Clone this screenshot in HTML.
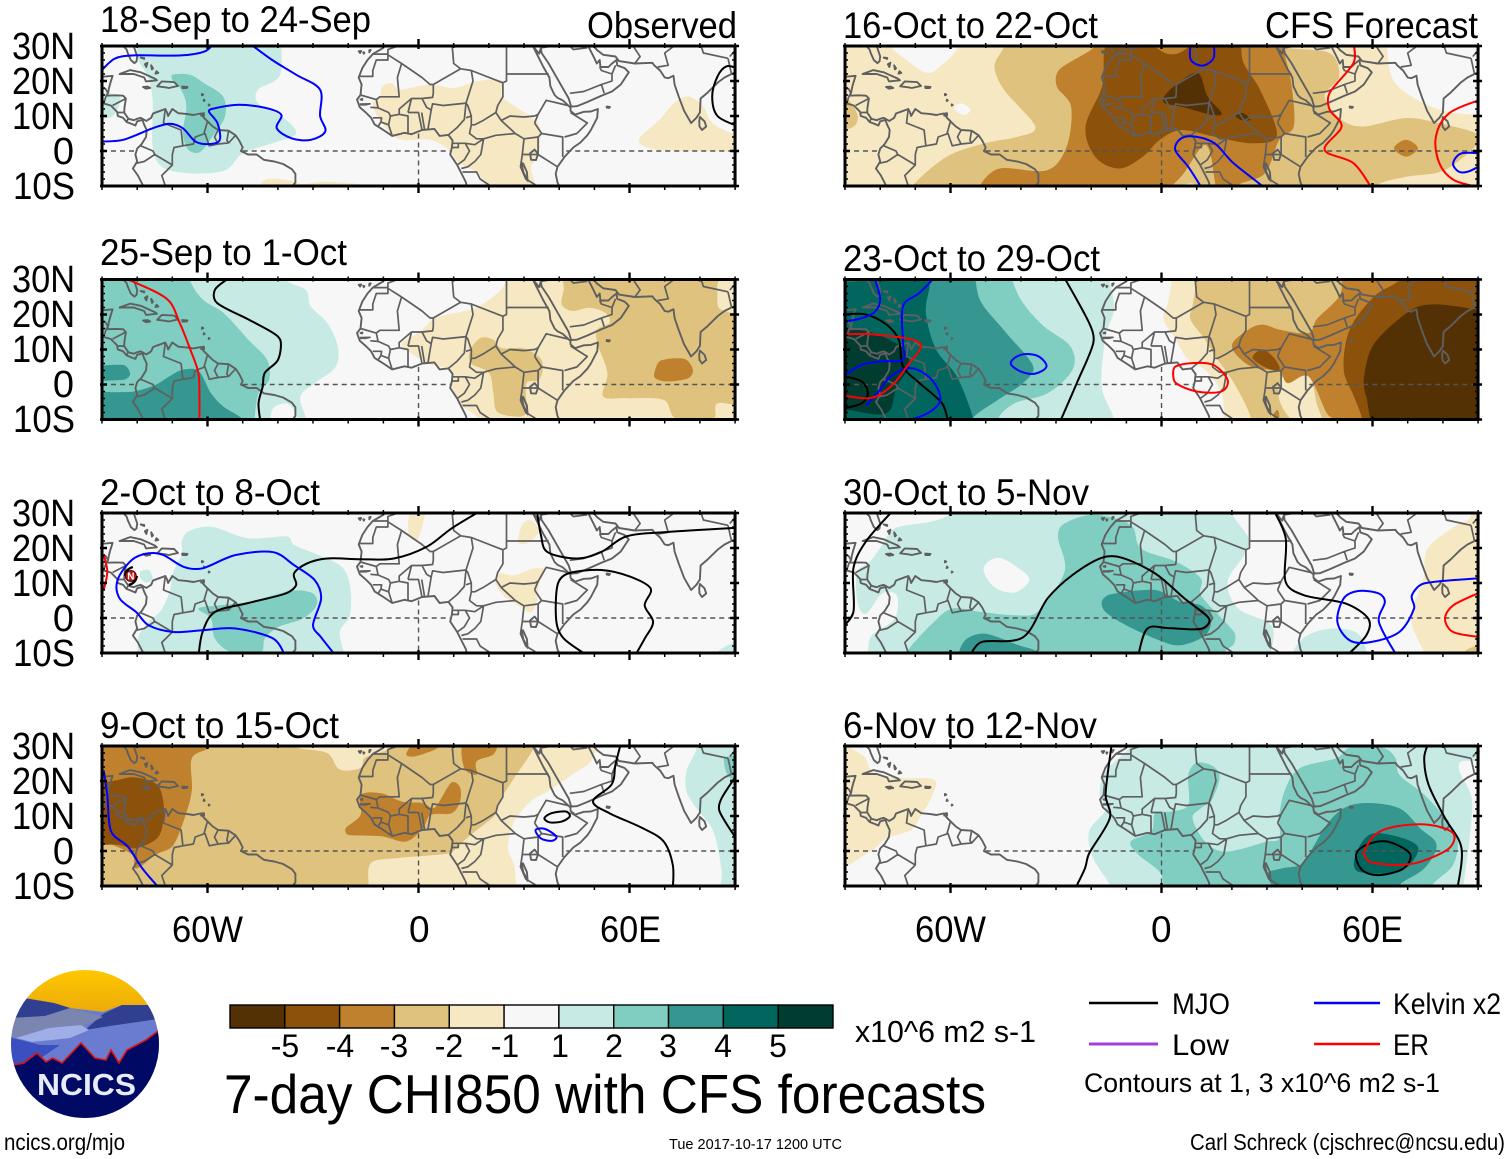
<!DOCTYPE html>
<html lang="en">
<head>
<meta charset="utf-8">
<title>7-day CHI850 with CFS forecasts</title>
<style>
html,body{margin:0;padding:0;background:#fff;}
svg{display:block;}
text{font-family:"Liberation Sans",sans-serif;fill:#000;}
</style>
</head>
<body>
<svg id="chart" xmlns="http://www.w3.org/2000/svg" width="1510" height="1159" viewBox="0 0 1510 1159">
<rect width="1510" height="1159" fill="#fff"/>
<g id="panels"></g>

<g>
<text x="100" y="32" font-size="37" textLength="271" lengthAdjust="spacingAndGlyphs">18-Sep to 24-Sep</text>
<text x="587" y="38" font-size="37" textLength="150" lengthAdjust="spacingAndGlyphs">Observed</text>
<text x="843" y="38" font-size="37" textLength="255" lengthAdjust="spacingAndGlyphs">16-Oct to 22-Oct</text>
<text x="1265" y="38" font-size="37" textLength="213" lengthAdjust="spacingAndGlyphs">CFS Forecast</text>
<text x="100" y="265" font-size="37" textLength="247" lengthAdjust="spacingAndGlyphs">25-Sep to 1-Oct</text>
<text x="843" y="271" font-size="37" textLength="257" lengthAdjust="spacingAndGlyphs">23-Oct to 29-Oct</text>
<text x="100" y="505" font-size="37" textLength="220" lengthAdjust="spacingAndGlyphs">2-Oct to 8-Oct</text>
<text x="843" y="505" font-size="37" textLength="246" lengthAdjust="spacingAndGlyphs">30-Oct to 5-Nov</text>
<text x="100" y="738" font-size="37" textLength="239" lengthAdjust="spacingAndGlyphs">9-Oct to 15-Oct</text>
<text x="843" y="738" font-size="37" textLength="254" lengthAdjust="spacingAndGlyphs">6-Nov to 12-Nov</text>
</g>

<g font-size="38" text-anchor="end">
<text x="75" y="59" textLength="63" lengthAdjust="spacingAndGlyphs">30N</text>
<text x="75" y="94" textLength="63" lengthAdjust="spacingAndGlyphs">20N</text>
<text x="75" y="129" textLength="63" lengthAdjust="spacingAndGlyphs">10N</text>
<text x="74" y="164">0</text>
<text x="75" y="199" textLength="62" lengthAdjust="spacingAndGlyphs">10S</text>
<text x="75" y="292" textLength="63" lengthAdjust="spacingAndGlyphs">30N</text>
<text x="75" y="327" textLength="63" lengthAdjust="spacingAndGlyphs">20N</text>
<text x="75" y="362" textLength="63" lengthAdjust="spacingAndGlyphs">10N</text>
<text x="74" y="397">0</text>
<text x="75" y="432" textLength="62" lengthAdjust="spacingAndGlyphs">10S</text>
<text x="75" y="526" textLength="63" lengthAdjust="spacingAndGlyphs">30N</text>
<text x="75" y="561" textLength="63" lengthAdjust="spacingAndGlyphs">20N</text>
<text x="75" y="596" textLength="63" lengthAdjust="spacingAndGlyphs">10N</text>
<text x="74" y="631">0</text>
<text x="75" y="666" textLength="62" lengthAdjust="spacingAndGlyphs">10S</text>
<text x="75" y="759" textLength="63" lengthAdjust="spacingAndGlyphs">30N</text>
<text x="75" y="794" textLength="63" lengthAdjust="spacingAndGlyphs">20N</text>
<text x="75" y="829" textLength="63" lengthAdjust="spacingAndGlyphs">10N</text>
<text x="74" y="864">0</text>
<text x="75" y="899" textLength="62" lengthAdjust="spacingAndGlyphs">10S</text>
</g>

<g font-size="37">
<text x="172" y="942" textLength="71" lengthAdjust="spacingAndGlyphs">60W</text>
<text x="409" y="942">0</text>
<text x="600" y="942" textLength="61" lengthAdjust="spacingAndGlyphs">60E</text>
<text x="915" y="942" textLength="71" lengthAdjust="spacingAndGlyphs">60W</text>
<text x="1151" y="942">0</text>
<text x="1342" y="942" textLength="61" lengthAdjust="spacingAndGlyphs">60E</text>
</g>

<g id="colorbar"></g>
<g font-size="32" text-anchor="middle">
<text x="285" y="1057">-5</text>
<text x="340" y="1057">-4</text>
<text x="394" y="1057">-3</text>
<text x="449" y="1057">-2</text>
<text x="505" y="1057">-1</text>
<text x="560" y="1057">1</text>
<text x="614" y="1057">2</text>
<text x="668" y="1057">3</text>
<text x="723" y="1057">4</text>
<text x="778" y="1057">5</text>
</g>
<text x="855" y="1042" font-size="31" textLength="181" lengthAdjust="spacingAndGlyphs">x10^6 m2 s-1</text>
<text x="224" y="1113" font-size="55" textLength="762" lengthAdjust="spacingAndGlyphs">7-day CHI850 with CFS forecasts</text>

<g>
<line x1="1089" x2="1158" y1="1003" y2="1003" stroke="#000" stroke-width="2.4"/>
<text x="1172" y="1014" font-size="30" textLength="58" lengthAdjust="spacingAndGlyphs">MJO</text>
<line x1="1314" x2="1380" y1="1003" y2="1003" stroke="#0000ff" stroke-width="2.4"/>
<text x="1393" y="1014" font-size="30" textLength="108" lengthAdjust="spacingAndGlyphs">Kelvin x2</text>
<line x1="1089" x2="1158" y1="1044" y2="1044" stroke="#a040d8" stroke-width="3"/>
<text x="1172" y="1055" font-size="30" textLength="57" lengthAdjust="spacingAndGlyphs">Low</text>
<line x1="1314" x2="1380" y1="1044" y2="1044" stroke="#ff0000" stroke-width="2.4"/>
<text x="1393" y="1055" font-size="30" textLength="36" lengthAdjust="spacingAndGlyphs">ER</text>
<text x="1084" y="1092" font-size="27" textLength="356" lengthAdjust="spacingAndGlyphs">Contours at 1, 3 x10^6 m2 s-1</text>
</g>

<g>
<defs>
<clipPath id="logoClip"><circle cx="85" cy="1044" r="74"/></clipPath>
<linearGradient id="skyGrad" x1="0" y1="0" x2="0" y2="1"><stop offset="0" stop-color="#ffc800"/><stop offset="1" stop-color="#e8a50a"/></linearGradient>
</defs>
<g clip-path="url(#logoClip)">
<rect x="10" y="970" width="150" height="50" fill="url(#skyGrad)"/>
<polygon fill="#6a7cd0" points="5,1020 24,998 54,1003 70,1008 103,1012 122,1005 165,1005 165,1120 5,1120"/>
<polygon fill="#303f90" points="5,1010 24,998 54,1003 70,1008 45,1016 15,1018"/>
<polygon fill="#303f90" points="122,1005 165,1005 165,1018 110,1026 85,1030 103,1014"/>
<polygon fill="#7a86b0" points="10,1018 45,1016 70,1008 103,1017 81,1027 38,1037 10,1038"/>
<polygon fill="#a0aee8" points="16,1038 49,1028 81,1025 89,1030 70,1038 32,1042"/>
<polygon fill="#3a50c0" points="5,1036 40,1045 60,1045 35,1062 13,1066 5,1066"/>
<polygon fill="#000a64" points="5,1066 13.5,1065 24,1063 37,1053 46,1062 52.6,1058 62,1063 81,1043 95,1058 106,1060 111,1050 119,1063 127,1050 146,1040 165,1026 165,1125 5,1125"/>
<polyline fill="none" stroke="#e01010" stroke-width="1.6" points="5,1066 13.5,1065 24,1063 37,1053 46,1062 52.6,1058 62,1063 81,1043 95,1058 106,1060 111,1050 119,1063 127,1050 146,1040 165,1026"/>
</g>
<text x="37" y="1095" font-size="31" font-weight="bold" style="fill:#e8ecf8" textLength="99" lengthAdjust="spacingAndGlyphs">NCICS</text>
</g>

<text x="4" y="1150" font-size="23" textLength="121" lengthAdjust="spacingAndGlyphs">ncics.org/mjo</text>
<text x="669" y="1149" font-size="15" textLength="173" lengthAdjust="spacingAndGlyphs">Tue 2017-10-17 1200 UTC</text>
<text x="1190" y="1150" font-size="23" textLength="315" lengthAdjust="spacingAndGlyphs">Carl Schreck (cjschrec@ncsu.edu)</text>
</svg>

<script>
/* ---------- legend levels ---------- */
const colorLevels = [-5,-4,-3,-2,-1,0,1,2,3,4,5];
const levelColors = {"-5":"#543005","-4":"#8c510a","-3":"#bf812d","-2":"#dfc27d","-1":"#f6e8c3","0":"#f7f7f7","1":"#c7eae5","2":"#80cdc1","3":"#35978f","4":"#01665e","5":"#003c30"};

/* ---------- panel 1: 18-Sep to 24-Sep ---------- */
const p1Fills = [
 [1,[-80,36,-39,36,-39,30,-39.6,21.3,-45.7,17.5,-45.7,13.7,-39,10,-34.8,5,-41.6,2.2,-50,-0.7,-55,-5.5,-65,-6.4,-73,-4.5,-75.6,1.2,-75.6,14.6,-77,21.3,-79.7,26,-80,30]],
 [1,[-92,16,-85,15.6,-87,10,-92,10]],
 [2,[-70,21.8,-65,21.8,-61,19.4,-55.6,15.6,-55,10,-58,5,-62,-0.2,-65.4,0.3,-67,5,-66,12.7,-67.5,17.5,-70,20.4]],
 [-1,[-46,-11,-43,-8,-36,-8.5,-33,-9.5,-27,-8.8,-14,-10,-14,-13,-46,-13]],
 [-1,[-11,15.6,-10.3,18.5,-7.6,19.4,-5.6,17.5,3.3,19,10,18,16.9,20,23.7,20,23.7,15.6,29,11.8,34,8,34.6,3,34,-1.6,32,-4.5,32.5,-12,21,-12,17,-6.4,11.4,-3.5,8.7,0.3,3.3,3.2,-6,3.6,-11.7,10,-13,13.7]],
 [-1,[63,4,68.6,9,72.6,13.7,76.7,15.6,81,12.7,83.5,8,90.3,4.6,96,4,96,-0.2,90,-0.2,68,0.3,63,2]]
];
const p1Kelvin = [
 [-91,22,-86.5,26.3,-81,27.3,-67.5,27.3,-60.7,28.5,-58,31],
 [-91,2.7,-84,3.2,-75.6,6.5,-70.8,7.8,-67,6.5,-63.4,2.7,-59.3,2,-56.5,3.2,-57.2,8,-59.6,11.3,-57.9,12.2,-51,13.2,-43,12.2,-39,10.3,-40.3,6.5,-36,3.6,-30.6,3.2,-26.5,5.6,-28,10,-28,17.5,-34.8,21.8,-41.6,26,-48.4,31]
];
const p1MJO = [[91,7,85,10,83.5,15.6,85,21.3,87.6,24.2,91,23.5]];
const p1ER = [];

/* ---------- panel 2: 25-Sep to 1-Oct ---------- */
const p2Fills = [
 [1,[-96,36,-37.8,36,-37.8,30,-32,27,-30.7,22.4,-26,17.6,-23,11,-23.6,5,-29.5,0.4,-33.6,-3.4,-32,-9.7,-32,-13,-96,-13]],
 [2,[-96,36,-65,36,-65,30,-61.4,24.3,-55.5,20.5,-48.4,12.8,-43,7,-42.5,1.3,-45.5,-2.5,-46.6,-9.8,-46.6,-13,-96,-13]],
 [0,[-41.3,-12,-41.3,-6.8,-36.6,-5.8,-34.2,-12]],
 [3,[-96,-13,-96,-3,-86,-2.2,-81,-2,-75,-0.2,-71,2.2,-67,4.2,-62.5,3.8,-59,-2.5,-55.5,-6.3,-50,-10,-50,-14]],
 [3,[-96,4.5,-84,5.6,-82,3,-84,1.3,-96,1.5]],
 [-1,[24.8,36,24.8,30,23.6,27.2,19.5,23.8,14.8,21.4,4.7,19,0.6,15.2,-4.7,11.9,-3.5,10,2.4,6.1,8.9,4.2,9.4,0.4,11.8,-5.4,17.1,-9.8,17.1,-14,96,-14,96,36]],
 [-2,[42,36,41.3,27.2,40.7,22.9,43.7,21,48.4,21.9,53.1,20.5,54.3,17.6,50.8,15.7,50.8,11.9,53.7,3.3,52.5,-3.4,59,-3.9,69.7,-4.4,73.2,-9.7,83.8,-9.7,85,-5.4,96,-4.4,96,36]],
 [-1,[86,30,96,30,96,20.5,86,21.4,85,25.4]],
 [-2,[14.8,10,17.7,13.3,21.3,12.8,23.6,10.4,29.5,10.4,34.2,8,35.4,5.2,34.2,1.3,30.7,0.4,30.7,-5.4,30.7,-8.2,28.3,-9.2,22.4,-7.8,21.3,-2.5,20,3.3,14.8,6.1]],
 [-3,[67.3,4.2,69,6.9,75.6,7.3,78,4.2,76.7,1.8,70.8,0.9,67.3,1.8]]
];
const p2Kelvin = [];
const p2MJO = [[-53,31,-57.8,27.2,-57.3,23.3,-48.4,18.6,-41.3,14.7,-39.2,12.3,-40,7,-43.7,3.3,-44.3,-0.6,-45.5,-5.4,-44.9,-11]];
const p2ER = [[-85.6,31,-80.3,29,-71.4,24.3,-67.9,17.6,-64.9,10,-62.6,3.3,-62.3,-3.4,-62.3,-11]];

/* ---------- panel 3: 2-Oct to 8-Oct ---------- */
const p3Fills = [
 [1,[-67.3,21.8,-65.5,24.7,-59,26.1,-48.4,22.8,-37.2,23.3,-35.4,20.9,-22.4,15.1,-19.5,9.4,-19.5,0.8,-22.4,-4,-22.4,-13,-78,-13,-79.7,-5.9,-76.7,-1.1,-73.2,2.2,-70.8,7.5,-69.7,13.2,-67.3,18]],
 [1,[-79,13.2,-76.7,13.7,-75.6,11.3,-77.3,10.1,-79,11.3]],
 [2,[-62.6,2.7,-56.7,3.6,-48.4,4.6,-41.3,6.5,-35.4,7.9,-30,7,-29,3.6,-33,-0.2,-40,-2.6,-43.7,-5.9,-44.9,-9.8,-53.1,-9.8,-57.9,-5.9,-59,-0.2]],
 [-1,[-1.8,31,1.8,31,0,22.8,-2.4,22.8,-3,26.6]],
 [-1,[29.5,26.6,31.9,28,34.2,24.7,30.7,21.3,28.3,21.8]],
 [-1,[23,12.7,27.2,12.2,33,14.2,36,13.7,34.2,9.4,33.6,4.6,31.9,1.7,28.3,3.6,24.2,6.5,21.8,10.3]],
 [1,[85,-9.8,90,-6.9,96,-6,96,-13,85,-13]]
];
const p3Kelvin = [[-37.8,-11,-41.3,-5.9,-52,-3,-61.4,-3.5,-69.7,-4,-76.7,-2.1,-80.3,1.7,-85,5.6,-85.6,10.8,-81.5,16.6,-76.7,18.5,-72.6,18,-66.7,14.6,-61.4,14.2,-52,18,-41.3,18.8,-35.4,15.1,-29.5,10.8,-27.7,5.6,-30,-2.1,-27.7,-5.5,-23.4,-11]];
const p3MJO = [
 [-62.6,-11,-61.4,-4,-57.9,1.7,-48.4,4.3,-37.8,7,-34.8,9.4,-35.4,12.7,-31.9,15.5,-26,17,-16.5,16.8,-7,17,2.4,20.4,9.4,25.6,18.3,31],
 [33.6,31,34.8,23.7,36.6,18.9,44.9,17,52,18.9,59,23.3,69.7,24.5,91,25.8],
 [48.4,-11,41.3,-5.9,39.2,-1.1,39.5,9.4,42.5,12.7,52,13.7,60.2,11.8,66,8.4,64.3,3.6,66.7,-1.1,64.3,-5.9,61.4,-11]
];
const p3ER = [[-89.5,18,-88.5,13.2,-89.5,8]];
const p3Storm = [-81.8,12];

/* ---------- panel 4: 9-Oct to 15-Oct ---------- */
const p4Fills = [
 [-1,[-96,36,49.6,36,49.6,26.6,43.7,21.8,36.6,17,31.9,14.2,27.2,8.4,25.4,0.8,27.2,-4,27.7,-10.2,27.7,-14,-96,-14]],
 [-2,[-96,36,-35.4,36,-35.4,30,-26,28,-22.4,23.3,-16.5,23.7,-15.3,26.6,-7,30,-7,36,33,36,33,30,27.2,20.9,23,14.2,21.8,10.3,14.8,4.6,10.6,0.8,8.9,-0.7,-7,-2.1,-13.6,-3.5,-14.2,-10.2,-14.2,-14,-96,-14]],
 [-3,[-96,36,-59,36,-59,30,-64.4,26.6,-64.4,18,-65.6,12.2,-69.7,1.7,-74.8,-1.1,-80.3,-5,-81.5,-1,-90,2.7,-96,2.5]],
 [-4,[-94,17,-85,20.4,-80.3,21,-74.4,19,-72.6,14.2,-72.6,8.4,-74.4,3.6,-80.3,0.8,-85,1.7,-94,3.5]],
 [-3,[-3.5,27.6,-1.2,30.5,5.9,30.5,4.7,29,-1.2,27]],
 [-3,[13,31,21.8,31,21.3,27.6,16.5,25.6,16.5,21.8,13,23.7]],
 [-3,[-20.7,6.5,-16.5,10.3,-16.5,16,-10.6,16.5,-4.7,14.1,1.2,13.7,4.1,12.2,5.9,14.1,9.4,19.6,11.8,18.2,11.8,14.1,9.4,10.8,3.5,10.3,1.2,6.5,-3.5,2.7,-10.6,4.2,-20,4.6]],
 [1,[79.1,36,79.1,29.5,76.2,22.8,76.2,17,79,12.2,83.8,5.6,86.2,-5.9,86.2,-14,96,-14,96,36]],
 [2,[86.8,26,88,27,96,27,96,18,88.5,20.9]]
];
const p4Kelvin = [
 [-89.5,23,-88.5,16,-87.4,5.6,-82.6,1.2,-78.5,-5,-73.4,-11],
 [33.3,6,36,6.3,39.2,4.1,37.8,2.9,34.8,3.6,33.3,6]
];
const p4MJO = [
 [35.8,9.4,37.8,10.8,41.9,11.3,43,9.9,40.7,8.4,37.2,8.2,35.8,9.4],
 [57.6,31,56,24.7,54.9,19,49.6,14.2,54.3,10.8,63.8,6.5,69.7,2.7,72.3,-4,72.3,-11],
 [91,22.5,86.2,15.1,85.6,11.3,91,2.5]
];
const p4ER = [];

/* ---------- panel 5: 16-Oct to 22-Oct ---------- */
const p5Fills = [
 [-1,[-97,37,97,37,97,-16,-97,-16]],
 [0,[-76.7,36,-76.7,30,-73.3,26.6,-66.5,22.3,-61.8,25.2,-59.7,27.1,-57.7,30,-57.7,36]],
 [0,[64.1,36,64.1,30,65.4,21.3,69.5,16.6,79,11.8,90,10.3,96,10,96,36]],
 [0,[-59,12.2,-57,13.6,-54.3,11.8,-56.4,10.3]],
 [-2,[-95,16,-90,15.6,-86.5,10.5,-87,7.5,-90,6,-95,5.5]],
 [-2,[-44.8,36,-44.8,30,-47.5,24.2,-44.8,17.5,-35.9,7,-40.7,4.1,-50.2,2.2,-61,-1.6,-70.6,-9.8,-72,-15,61.4,-15,61.4,-9.8,69.5,-7.4,80.4,-5.5,90,2.2,89.3,5.1,79,7.9,69.5,9.4,57.3,7,51.2,8.9,46.4,15.6,50.5,21.3,47.8,28,34.1,30,34.1,36]],
 [-3,[-18.9,36,-18.9,30,-29,23.3,-29.8,18.5,-25.7,12.7,-27,1.2,-32.5,-5.5,-46,-5,-51.6,-9.8,-52,-15,21.9,-15,21.9,-9.8,29.4,-6.4,33.5,3.2,37.6,7,36.9,19.4,34.8,29,34.8,36]],
 [-4,[-13,36,-16.2,29,-16.9,18.5,-21.6,7,-18.9,-1.6,-12.1,-5,-5.3,-1.6,-0.5,3.2,5.6,6,15.1,4.1,26,2.2,32.8,4.6,28,17.5,23.3,25.2,19.9,36]],
 [-3,[-2,31,1,28,5,28,8,31]],
 [-2,[1.5,-13,6.3,-6.4,12.4,1.8,14.8,-6.4,14.1,-13]],
 [-1,[1.5,-13,8.3,-9.2,12.4,-13]],
 [-5,[0.8,15.6,4.2,19,10.3,22.3,13.1,15.6,17.1,10.8,14.4,10.3,5.6,12.7,0.8,13.7]],
 [-5,[20.8,10.3,23.3,10.8,25.3,8.9,22.6,8.9]],
 [-3,[66.1,0.8,69.5,3.2,72.9,0.8,69.5,-1.6]]
];
const p5Kelvin = [
 [8.3,31,8.3,26.1,11.7,24.4,14.8,26.6,14.8,31],
 [11.7,-11,7.6,-4.5,3.9,0.3,5.6,3.6,9.7,4.1,15.1,2.2,20.5,-3.5,30,-11],
 [91,-0.7,85.2,-0.7,82.9,-3.5,84.5,-5.9,87.2,-5.9,91,-4]
];
const p5MJO = [];
const p5ER = [
 [54.6,31,54.6,25.2,47.8,16.6,47.8,11.8,51.2,7,46.4,0.3,54.6,-3.5,60,-11],
 [91,14.8,81.8,10.8,78,4.1,79,-3.5,83.1,-8.3,91,-10.5]
];

/* ---------- panel 6: 23-Oct to 29-Oct ---------- */
const p6Fills = [
 [1,[-96,36,-14.7,36,-14.7,30,-13.5,21.5,-15.9,13.8,-17,-0.6,-13.5,-9.8,-13.5,-15,-96,-15]],
 [2,[-96,36,-42.4,36,-42.4,30,-39.4,23.3,-33.5,16.7,-25.9,10.9,-25.3,4.2,-32.4,-2.5,-41.8,-5.4,-46.5,-9.8,-46.5,-15,-96,-15]],
 [3,[-96,36,-52.9,36,-52.9,30,-51.2,23.3,-44.1,14.7,-36.5,5.2,-39.4,0.4,-46.5,-4.4,-53.8,-9.8,-53.8,-15,-96,-15]],
 [4,[-96,27,-85,30,-84,36,-66,36,-65.9,28.6,-67,20.5,-64.1,10,-58.2,2.3,-53.5,-9.8,-53.5,-15,-96,-15]],
 [5,[-96,13.8,-84.1,15.2,-73.5,10.4,-71.8,5.2,-75.3,-0.6,-78.2,-8.2,-88.8,-7.3,-96,-6]],
 [-1,[2.9,36,2.9,30,1.8,23.3,0.6,18.6,4.1,12.8,7.6,7.1,12.4,4.2,17.1,-2.5,17.6,-9.8,17.6,-15,96,-15,96,36]],
 [-2,[10,36,10,30,8.8,22.4,8.2,18.6,12.4,12.8,15.3,8,20.6,0.4,25.3,-9.2,25.3,-15,96,-15,96,36]],
 [-1,[34.7,2.3,41.8,2.3,44.1,-5.4,45.3,-11,38.2,-11,33.5,-4.4]],
 [-3,[51.2,31,50.6,25.3,44.1,18.6,41.8,14.7,33.5,15.7,28.8,17.1,24.7,15.7,20,10.9,25.3,5.2,33.5,3.7,35.9,0.4,41.8,2.3,47,-8.2,50,-11,50,-15,96,-15,96,36,51.2,36]],
 [-4,[67.6,36,67.6,30,60.6,25.3,53.5,15.7,51.8,4.2,54.7,-3.4,57,-9.8,57,-15,96,-15,96,36]],
 [-4,[25.9,7.6,28.8,10,32.4,7.1,33.5,4.2,30,4.7]],
 [-5,[57.6,2.3,60.6,11.9,71.2,21.4,78.2,22.9,90,21.4,96,21,96,-15,63,-15,58.2,-3.4]],
 [-3,[31.8,-8.7,33,-7.3,33.5,-9.2,32.5,-11]]
];
const p6Kelvin = [
 [-81.8,31,-80,24.3,-81.8,20.5,-86.5,18.6,-91,18],
 [-64.1,31,-68.8,26.2,-73.5,22.4,-73.5,11.9,-73.5,7.1,-79.4,6.6,-85.3,5.6,-91,2],
 [-74.1,-11,-66.5,-8.2,-62.9,-4.4,-65.3,1.3,-71.2,4.7,-77,2.3,-80,-1.5,-84,-6],
 [-42.9,6.1,-40,8.5,-35.3,8.2,-32.7,5.2,-35.9,3.1,-40,3.7,-42.9,6.1]
];
const p6MJO = [
 [-27.9,31,-20.6,17.6,-19.4,11.9,-24.1,0.4,-29,-11],
 [-91,20,-84.1,20,-78.2,17.1,-74.7,12.8,-73.5,5.2,-68.8,0.4,-62.4,-5.4,-60.6,-11],
 [-91,2.5,-85.3,0.9,-83.5,-2.5,-85.3,-5.4,-91,-7]
];
const p6ER = [
 [-91,14.3,-82,14.3,-68.8,11.9,-72.4,5.2,-77,-0.6,-82.9,-3.9,-91,-3],
 [4.1,5.2,8.8,6.1,14.7,5.6,18.8,1.3,17,-2,10,-2,4.1,0.4,3.3,3.3,4.1,5.2]
];

/* ---------- panel 7: 30-Oct to 5-Nov ---------- */
const p7Fills = [
 [1,[-60,36,-60,30,-65.3,27.6,-75.9,25.6,-79.4,20.9,-82.9,16.1,-86.5,13.2,-86.5,4.6,-84.1,1.2,-79.4,7,-75.3,6.5,-75.9,-0.2,-82.4,-5,-83.5,-9.8,-84,-15,31.2,-15,31.2,-9.8,31.2,-2.1,21.8,2.7,18.8,10.3,23.5,18,24.7,22.8,20,30,20,36]],
 [1,[38,-12,40,-6,47.6,-3.1,55.9,-4.5,57,-12]],
 [0,[-50.6,14.2,-46.5,17.2,-40.6,14.2,-37.6,10.8,-41.8,7.3,-47.6,8.9]],
 [2,[-29.4,22.8,-28.2,26.6,-19.4,29.5,-8.8,26.6,-5.9,19.9,4.1,16.1,11.2,11.3,11.2,6.5,20.6,-4,20.6,-7.4,18,-9.8,18,-15,-72.4,-15,-72.4,-9.8,-64.7,-1.1,-59.4,2.7,-51.2,1.7,-41.8,0.8,-35.3,1.7,-27.6,13.2]],
 [3,[-17,4.6,-14.7,6.7,-1.8,8,5.3,4.6,11.2,3.6,14.1,-0.2,12.4,-5,5.3,-7.8,-0.6,-6.4,-10,-2.1,-15.9,1.7]],
 [3,[-57.6,-9.8,-55.3,-5.9,-50,-4.5,-40.6,-7.8,-35.3,-9.8,-35.3,-14,-57.6,-14]],
 [-1,[88,36,88,29,84,26.6,75.7,19.9,74.5,11.3,71,-0.2,74.5,-9.8,74.5,-15,96,-15,96,36]],
 [-2,[86,-9.8,90,-7.8,96,-7,96,-14,86,-14]]
];
const p7Kelvin = [[67,-11,61.8,-1.1,63.5,4.6,61.8,7,55.9,7.7,51.8,5.6,50,-1.1,53.5,-6.4,59.4,-6.9,67.6,-4,71.8,2.7,71.2,6.5,74.7,9.9,91,11.4]];
const p7MJO = [
 [-76.1,31,-84.1,21.8,-87.6,14.2,-87.6,1.7,-91,-3],
 [-54.7,-11,-51.2,-6.9,-39.4,-5.5,-32.4,5.6,-25.3,12.3,-17,17.2,-11.2,17.2,-1.8,12.7,6.5,5.6,13.5,-0.2,11.2,-3.1,1.8,-2.9,-4.1,-3.1,-6.7,-11],
 [31.8,31,35.3,22.8,35.3,10.3,40.6,6.5,52.4,4.1,58.8,-0.2,58.2,-5,52.4,-11]
];
const p7ER = [[91,7.5,82.9,3.6,80.6,-0.2,82.9,-4,91,-5.5]];

/* ---------- panel 8: 6-Nov to 12-Nov ---------- */
const p8Fills = [
 [-1,[-96,30,-85.3,27.6,-81.8,22.3,-73.5,20.9,-64.7,20.4,-65.3,15.6,-68.8,9.4,-71.2,6,-78.2,3.6,-82.9,-0.2,-96,-4.5]],
 [1,[-8.8,36,-8.8,30,-15.9,22.8,-17.6,16.1,-15.9,11.8,-20.6,5.6,-19.4,-2.1,-14.7,-9.8,-14.7,-15,85.9,-15,85.9,-9.8,87.6,3.6,88.2,15.1,84.7,22.8,85.3,25.6,96,26.6,96,36]],
 [2,[-8.8,2.7,-2.9,5.6,-1.8,10.8,2.9,11.3,7.6,13.2,7.6,21.8,10,25.2,14.7,24.2,16.5,20.9,14.1,14.2,11.2,12.2,8.8,9.4,12.4,2.7,18.2,-0.2,30,2.7,33.5,3.6,33.5,10.3,35.3,18,39.4,23.7,50,26.6,53.5,29.5,62.9,29.5,66.5,26.6,67.6,21.8,74.7,16.1,80.6,9.4,84.1,3.6,82.9,-4,77,-9.8,77,-15,0.6,-15,0.6,-9.8,-0.6,-5.9,-6.5,-1.1]],
 [3,[41.8,-1.1,47,7.5,51.8,12.2,58.2,13.7,67.6,12.2,73.5,6.5,78.2,1.7,74.7,-5,67.6,-9.8,67,-15,31.2,-15,31.2,-9.8,30,-6.4,34.1,-5,39.4,-4]],
 [4,[54.7,-3.1,57.1,2.7,60.6,5.1,68.8,3.6,73,0.8,70,-4.5,64.1,-6.4,55.9,-5.9]]
];
const p8Kelvin = [];
const p8MJO = [
 [-14.1,31,-15.9,16.1,-14.7,9.4,-20.6,-0.7,-21.8,-5,-24.7,-11],
 [75.9,31,74.7,26.6,75.9,19,80.6,9.4,85.3,0.8,84.1,-11],
 [55.3,-1.1,58.2,1.7,64.1,2.7,70.6,-0.7,68.8,-5,61.8,-6.9,57.1,-5.5,55.3,-1.1]
];
const p8ER = [[57.6,-0.2,60.6,4.6,66.5,7,75.9,7.5,82.9,5.1,81.8,0.8,73.5,-3.1,66.5,-4,59.4,-3.1,57.6,-1.1,57.6,-0.2]];

/* ---------- geography (lon, lat) ---------- */
const coastOpen = [
 [-90,30.3,-85.5,29.8,-84,30,-83,29,-82.7,28,-81.8,26,-80.8,25.1,-80.2,25.6,-80,27,-81,30,-81.3,31],
 [-91,21,-90,21.2,-87,21.5,-87.6,19.5,-88,18,-88.3,16.5,-88.8,15.8,-86,15.9,-84,15.8,-83.2,15,-83.6,12.5,-83.7,11,-82.5,9.2,-81,8.8,-80,9.2,-79,9.5,-77.4,8.6,-76,9.5,-75.5,10.7,-74.2,11.2,-72,12,-71.5,11,-71.2,10,-70,12,-68.3,10.8,-66,10.6,-64,10.3,-62,10.7,-61,9.5,-60,8.5,-58.5,7,-57,6,-54,5.8,-52,4.5,-51,3,-50,1,-50.5,0,-48.5,-1,-46,-1,-44,-2.5,-41,-3,-38.5,-3.7,-36,-5.2,-35,-6.5,-35,-9,-37,-11.5],
 [-91,14,-87.5,13,-85.7,11.2,-85.5,10,-84,9.5,-83,8.3,-81.5,7.7,-80.5,7.3,-80,8.5,-78.5,8.9,-78,7.5,-77.3,6,-77.5,4,-78.7,2,-80,0.7,-80.5,-1,-80,-3,-81.2,-5,-79.8,-7,-78.5,-9.5,-77,-12.5],
 [-9.5,31,-10,29.5,-13,27.7,-14.5,26,-16,23.7,-17,21,-16.2,19,-16.5,16,-17.5,14.7,-16.7,12.5,-15,11,-13.5,9.5,-12.5,7.6,-10,6,-7.5,4.3,-4,5.2,-2,4.8,1,6,4.5,6.3,6,4.3,7.5,4.5,8.5,4.6,9.7,3,9.5,1,9,-1,11,-4,12,-6,13,-8,13.5,-9,13.8,-11,13.5,-13],
 [32.5,31,32.6,29.8,33.6,27.8,35.5,24,37.2,21,37.5,18.5,38.7,16,39.5,15.2,41,14.5,43.2,12.4,43.2,11.5,44.5,10.4,47,11.2,49,11.3,51,12,50.8,9.5,49,6,48,4.5,46,2.4,44,1,41.5,-1.7,39.5,-4.5,39,-6.5,39.5,-9,40.5,-11,40.7,-14],
 [32.5,30,34.3,27.8,34.8,29.5,35,28,37,25,39,21.5,41,18,42.7,15,43.4,12.7,45,12.8,48,14,52,15.8,55,17,57.5,19,59.8,22.5,58.6,23.7,56.5,24.5,56.3,26,55,25,54,24,51.7,24,51.5,26,50.7,25,50,26.5,48.5,29.5,48,31],
 [48.8,31,50.8,28.8,52.5,27.5,56,27,57,25.7,61.5,25,66.5,25.2,67,24.5,68.7,23,70,21,71,20.8,72.5,21.5,72.8,19,74,15.5,75.5,11.5,77.5,8,79,9.5,80,11,80.2,15,82.2,16.7,85,19.5,87,21,89,22,91,23]
];
const coastClosed = [
 [-85,22,-82,23.1,-79,22.5,-75,20.7,-74.4,20.2,-77.5,19.9,-78,21,-81,22],
 [-74.3,18.5,-73,19.9,-69.5,19.7,-68.4,18.6,-71,18,-72,18.2],
 [-78.3,18.3,-77,18.4,-76.3,18,-77.5,17.8],
 [-67.2,18.4,-65.7,18.3,-65.9,18,-67.1,18],
 [-79,26.7,-78,26.6,-78,26.3],[-77.8,24.8,-77.1,25.2,-77.4,24],[-76,24.5,-75.5,23.6,-75.8,23.3],[-74.5,22.8,-74,22.3,-74.8,22.1],
 [-61,14.7,-60.8,14.4,-61.1,14.3],[-61.6,16.3,-61.2,16.1,-61.6,15.9],[-59.6,13.3,-59.4,13.1,-59.7,13],[-61.6,10.7,-61,10.8,-61,10.1,-61.8,10.1],
 [-17,28.5,-16.3,28.6,-16.6,28],[-15.7,28.2,-15.4,28.1,-15.6,27.8],[-14,28.8,-13.6,28.9,-14,28.2],
 [-16,14.9,-16.5,14.7,-16,14.6],
 [53.5,12.7,54.4,12.6,54.2,12.3,53.5,12.4],
 [80,9.7,81.3,8.5,81.8,7,80.6,6,79.9,7,79.8,8.5],
 [33,0.4,34,-0.9,33.4,-2.6,32,-2.5,31.7,-0.7],
 [29.3,-3.5,29.8,-6,31,-8.5,30.8,-6,29.7,-3.5]
];
const borders = [
 [-17,21.3,-13,21.3,-13,23,-12,26,-8.7,26,-8.7,27.7,-13,27.7],
 [-8.7,27.5,-4.8,25,-6,21,-5.5,15.5,-11,15.5,-12,14.7,-16.5,16],
 [-8.7,27.7,-8.7,29,-3,31],
 [-4.8,25,1,21,3.3,19,4.2,19,4.2,16.5,4,15.3,1,15,-2,15,-5.5,12,-5.5,10.5,-3,10,-3,5],
 [4.2,19,12,23.5,15,23,24,19.5,24,15.5,22.5,13,22,11,23.5,8.7,26,10,30,9.7,33,10,34,10.5,36.3,14.5,42.5,13],
 [9.5,31,10,25,12,23.5],[25,31,25,20,24,19.5],[25,22,37,22],
 [15,23,15.5,20,13.5,13.7,14,13,15,10,13.5,9.5],
 [3.6,11.7,4,13.5,7,13,13.5,13.7,13,9,11,6.7,8.5,4.6],
 [15,10,15,7.5,14.5,5,16.5,3.5,18.5,3.5,22,4.5,27.5,5,27,5.5,23.5,8.7],[15,7.5,16,7.5,18.5,8.8,22,11],
 [33,8,35,5,41,4,41,-1.7],[34,10.5,33,8],[35,5,34,4,30,3.5,29.5,-1,29,-4.5,30.5,-8,33,-9.5,35,-11.5],[27.5,5,30,3.5],
 [34,-1,39.5,-4.5],[29.7,-1,34,-1],[34,4,34,1,34,-1],
 [43.2,11,48,8,45,5,41.5,4],
 [9.8,2.2,11.3,2.2,13.3,2.2,16,1.8,18.5,3.5],[9.8,2.2,11.3,2.2,11.3,1,9.5,1],
 [18.5,3.5,17.7,-1,16,-3,14,-4.5,12.2,-5],[13.3,2.2,14.5,0,13,-2.5,11,-4],
 [12.5,-6,16.5,-6,17.5,-8,22,-11,24,-11,28,-12,29,-13],
 [-12,14.7,-11.5,12.3,-13.7,12.5],[-16.7,13.4,-13.8,13.5,-15,13.2,-16.7,13.2],[-11.5,12.3,-8.5,11,-8,10,-5.5,10.5],
 [-13,9.5,-10.5,9.5,-10.7,8.3,-11.5,7],[-10.7,8.3,-8.5,7.5,-7.5,4.3],[-8.5,7.5,-8,10],
 [-3,11,0,11,1,6],[0.9,11,1.7,6.2],[2.7,6.3,3.6,11.7,2.3,12.5,1,15],[-3,11,-2,15],
 [43,16.5,47,17,52,19,55,20,55,22,52,23,51.5,24],[55,22,56,24.5],[52.8,16.5,52,19],
 [35,29.5,38,30,42,31],[48,29.5,44,29,42,31],[48,30,47,31],
 [61.5,25,63,27,61,30,61,31],[68,24,71,24.5,70,28,74,31],[80,31,81,28,88,26.5],[88,26.5,89,22],[92,31,88.5,27],
 [-72,12,-72.5,8,-70,7,-67.5,6,-67,1.5],[-79,1.5,-75.5,0,-75,-1,-70,-4,-70,-1,-69.5,1,-67,1.5,-64,2,-63.5,4,-60.7,5,-59.5,1.5,-57,2,-54,2.3,-52,4.5],
 [-60,8.5,-61,5],[-57,6,-58,4,-57,2],[-54,5.8,-54.5,3,-54,2.3],[-80.3,-3.5,-78,-3,-75,-1],[-70,-4,-73,-7,-72,-10,-70,-11],
 [-83.2,15,-87,13],[-83.7,11,-85.7,11],[-82.5,9.5,-83,8.3],[-91,17.8,-89,17.8,-88.3,16.5],[-88.8,15.8,-89.4,14],
 [-81,31,-91,31]
];
const equatorSegments = [[-90,-80],[-50,9],[42,90]];
const meridianSegment = [5,-10];

/* ---------- axis ticks ---------- */
const lonMinorTicks = [-90,-80,-70,-50,-40,-30,-20,-10,10,20,30,40,50,70,80,90];
const lonMajorTicks = [-60,0,60];
const latMinorTicks = [28,26,24,22,18,16,14,12,8,6,4,2,-2,-4,-6,-8];
const latMajorTicks = [30,20,10,0,-10];

/* ---------- layout ---------- */
const panelLayout = [
 {key:'18-sep',left:102,top:46,fills:p1Fills,mjo:p1MJO,kelvin:p1Kelvin,er:p1ER},
 {key:'25-sep',left:102,top:279.5,fills:p2Fills,mjo:p2MJO,kelvin:p2Kelvin,er:p2ER},
 {key:'2-oct',left:102,top:513,fills:p3Fills,mjo:p3MJO,kelvin:p3Kelvin,er:p3ER,storm:p3Storm},
 {key:'9-oct',left:102,top:746,fills:p4Fills,mjo:p4MJO,kelvin:p4Kelvin,er:p4ER},
 {key:'16-oct',left:845,top:46,fills:p5Fills,mjo:p5MJO,kelvin:p5Kelvin,er:p5ER},
 {key:'23-oct',left:845,top:279.5,fills:p6Fills,mjo:p6MJO,kelvin:p6Kelvin,er:p6ER},
 {key:'30-oct',left:845,top:513,fills:p7Fills,mjo:p7MJO,kelvin:p7Kelvin,er:p7ER},
 {key:'6-nov',left:845,top:746,fills:p8Fills,mjo:p8MJO,kelvin:p8Kelvin,er:p8ER}
];
const PX_PER_LON = 3.517;
const PX_PER_LAT = 3.5;
const MAP_W = 180*PX_PER_LON;
const MAP_H = 40*PX_PER_LAT;
const NS = 'http://www.w3.org/2000/svg';

function xScale(p,lon){return p.left+(lon+90)*PX_PER_LON;}
function yScale(p,lat){return p.top+(30-lat)*PX_PER_LAT;}
function project(p,flat){
  const out=[];
  for(let i=0;i<flat.length;i+=2){out.push([xScale(p,flat[i]),yScale(p,flat[i+1])]);}
  return out;
}
function handle(a,b,segLen){
  let dx=(b[0]-a[0])/6,dy=(b[1]-a[1])/6;
  const len=Math.hypot(dx,dy),cap=0.36*segLen;
  if(len>cap&&len>0){dx*=cap/len;dy*=cap/len;}
  return [dx,dy];
}
function smoothPath(pts,closed){
  const n=pts.length;
  let d='M'+pts[0][0].toFixed(1)+' '+pts[0][1].toFixed(1);
  const last=closed?n:n-1;
  for(let i=0;i<last;i++){
    const p0=closed?pts[(i-1+n)%n]:pts[Math.max(i-1,0)];
    const p1=pts[i];
    const p2=pts[(i+1)%n];
    const p3=closed?pts[(i+2)%n]:pts[Math.min(i+2,n-1)];
    const seg=Math.hypot(p2[0]-p1[0],p2[1]-p1[1]);
    const h1=handle(p0,p2,seg),h2=handle(p1,p3,seg);
    d+='C'+(p1[0]+h1[0]).toFixed(1)+' '+(p1[1]+h1[1]).toFixed(1)+' '+(p2[0]-h2[0]).toFixed(1)+' '+(p2[1]-h2[1]).toFixed(1)+' '+p2[0].toFixed(1)+' '+p2[1].toFixed(1);
  }
  return d+(closed?'Z':'');
}
function linearPath(pts,closed){
  return 'M'+pts.map(q=>q[0].toFixed(1)+' '+q[1].toFixed(1)).join('L')+(closed?'Z':'');
}
function isLoop(flat){return flat[0]===flat[flat.length-2]&&flat[1]===flat[flat.length-1];}

const root=document.getElementById('panels');

panelLayout.forEach(function(p,idx){
  const g=document.createElementNS(NS,'g');
  
  
  g.setAttribute('id','panel-'+p.key);

  const clip=document.createElementNS(NS,'clipPath');
  clip.setAttribute('id','clip'+idx);
  const clipRect=document.createElementNS(NS,'rect');
  clipRect.setAttribute('x',p.left);
  clipRect.setAttribute('y',p.top);
  clipRect.setAttribute('width',MAP_W);
  clipRect.setAttribute('height',MAP_H);
  clip.appendChild(clipRect);
  g.appendChild(clip);

  const inner=document.createElementNS(NS,'g');
  inner.setAttribute('clip-path','url(#clip'+idx+')');

  const bg=document.createElementNS(NS,'rect');
  
  
  bg.setAttribute('x',p.left);
  bg.setAttribute('y',p.top);
  bg.setAttribute('width',MAP_W);
  bg.setAttribute('height',MAP_H);
  bg.setAttribute('fill',levelColors[0]);
  inner.appendChild(bg);

  p.fills.forEach(function(f){
    const el=document.createElementNS(NS,'path');
    
    
    el.setAttribute('d',smoothPath(project(p,f[1]),true));
    el.setAttribute('fill',levelColors[f[0]]);
    inner.appendChild(el);
  });

  equatorSegments.forEach(function(s){
    const el=document.createElementNS(NS,'line');
    
    
    el.setAttribute('x1',xScale(p,s[0]));
    el.setAttribute('x2',xScale(p,s[1]));
    el.setAttribute('y1',yScale(p,0));
    el.setAttribute('y2',yScale(p,0));
    el.setAttribute('stroke','#555');
    el.setAttribute('stroke-width','1.4');
    el.setAttribute('stroke-dasharray','5 4');
    inner.appendChild(el);
  });
  const mer=document.createElementNS(NS,'line');
  
  
  mer.setAttribute('x1',xScale(p,0));
  mer.setAttribute('x2',xScale(p,0));
  mer.setAttribute('y1',yScale(p,meridianSegment[0]));
  mer.setAttribute('y2',yScale(p,meridianSegment[1]));
  mer.setAttribute('stroke','#555');
  mer.setAttribute('stroke-width','1.4');
  mer.setAttribute('stroke-dasharray','5 4');
  inner.appendChild(mer);

  let dCoast='';
  coastOpen.forEach(function(c){dCoast+=linearPath(project(p,c),false);});
  coastClosed.forEach(function(c){dCoast+=linearPath(project(p,c),true);});
  const coast=document.createElementNS(NS,'path');
  
  
  coast.setAttribute('d',dCoast);
  coast.setAttribute('fill','none');
  coast.setAttribute('stroke','#5f5f5f');
  coast.setAttribute('stroke-width','1.9');
  coast.setAttribute('stroke-linejoin','round');
  inner.appendChild(coast);

  let dBorder='';
  borders.forEach(function(c){dBorder+=linearPath(project(p,c),false);});
  const bord=document.createElementNS(NS,'path');
  
  
  bord.setAttribute('d',dBorder);
  bord.setAttribute('fill','none');
  bord.setAttribute('stroke','#5f5f5f');
  bord.setAttribute('stroke-width','1.7');
  bord.setAttribute('stroke-linejoin','round');
  inner.appendChild(bord);

  p.mjo.forEach(function(c){
    const el=document.createElementNS(NS,'path');
    
    
    const loop=isLoop(c);
    el.setAttribute('d',smoothPath(project(p,loop?c.slice(0,-2):c),loop));
    el.setAttribute('fill','none');
    el.setAttribute('stroke','#000');
    el.setAttribute('stroke-width','2');
    inner.appendChild(el);
  });
  p.kelvin.forEach(function(c){
    const el=document.createElementNS(NS,'path');
    
    
    const loop=isLoop(c);
    el.setAttribute('d',smoothPath(project(p,loop?c.slice(0,-2):c),loop));
    el.setAttribute('fill','none');
    el.setAttribute('stroke','#0000ff');
    el.setAttribute('stroke-width','2');
    inner.appendChild(el);
  });
  p.er.forEach(function(c){
    const el=document.createElementNS(NS,'path');
    
    
    const loop=isLoop(c);
    el.setAttribute('d',smoothPath(project(p,loop?c.slice(0,-2):c),loop));
    el.setAttribute('fill','none');
    el.setAttribute('stroke','#ff0000');
    el.setAttribute('stroke-width','2');
    inner.appendChild(el);
  });

  if(p.storm){
    const sx=xScale(p,p.storm[0]),sy=yScale(p,p.storm[1]);
    const arms=document.createElementNS(NS,'path');
    
    
    arms.setAttribute('d','M'+(sx+2)+' '+(sy-9)+'Q'+(sx-5)+' '+(sy-7)+' '+(sx-6)+' '+sy+'M'+(sx-2)+' '+(sy+9)+'Q'+(sx+5)+' '+(sy+7)+' '+(sx+6)+' '+sy);
    arms.setAttribute('fill','none');
    arms.setAttribute('stroke','#000');
    arms.setAttribute('stroke-width','2.4');
    inner.appendChild(arms);
    const dot=document.createElementNS(NS,'circle');
    
    
    dot.setAttribute('cx',sx);
    dot.setAttribute('cy',sy);
    dot.setAttribute('r','5.5');
    dot.setAttribute('fill','#d01010');
    dot.setAttribute('stroke','#000');
    dot.setAttribute('stroke-width','0.8');
    inner.appendChild(dot);
    const letter=document.createElementNS(NS,'text');
    
    
    letter.setAttribute('x',sx);
    letter.setAttribute('y',sy+3.5);
    letter.setAttribute('font-size','10');
    letter.setAttribute('font-weight','bold');
    letter.setAttribute('text-anchor','middle');
    letter.setAttribute('style','fill:#fff');
    letter.textContent='N';
    inner.appendChild(letter);
  }
  g.appendChild(inner);

  const tickPath={minor:'',major:''};
  const bottom=p.top+MAP_H,right=p.left+MAP_W;
  lonMinorTicks.forEach(function(lon){
    const x=xScale(p,lon).toFixed(1);
    tickPath.minor+='M'+x+' '+(p.top-3)+'V'+(p.top+2)+'M'+x+' '+(bottom)+'V'+(bottom+4);
  });
  lonMajorTicks.forEach(function(lon){
    const x=xScale(p,lon).toFixed(1);
    tickPath.major+='M'+x+' '+(p.top-7)+'V'+(p.top+3)+'M'+x+' '+(bottom-3)+'V'+(bottom+7);
  });
  latMinorTicks.forEach(function(lat){
    const y=yScale(p,lat).toFixed(1);
    tickPath.minor+='M'+p.left+' '+y+'H'+(p.left+3)+'M'+right+' '+y+'H'+(right-3);
  });
  latMajorTicks.forEach(function(lat){
    const y=yScale(p,lat).toFixed(1);
    tickPath.major+='M'+(p.left-2)+' '+y+'H'+(p.left+5)+'M'+(right-5)+' '+y+'H'+(right+4);
  });
  const minor=document.createElementNS(NS,'path');
  
  
  minor.setAttribute('d',tickPath.minor);
  minor.setAttribute('stroke','#000');
  minor.setAttribute('stroke-width','1.5');
  g.appendChild(minor);
  const major=document.createElementNS(NS,'path');
  
  
  major.setAttribute('d',tickPath.major);
  major.setAttribute('stroke','#000');
  major.setAttribute('stroke-width','2.4');
  g.appendChild(major);

  const frame=document.createElementNS(NS,'rect');
  
  
  frame.setAttribute('x',p.left);
  frame.setAttribute('y',p.top);
  frame.setAttribute('width',MAP_W);
  frame.setAttribute('height',MAP_H);
  frame.setAttribute('fill','none');
  frame.setAttribute('stroke','#000');
  frame.setAttribute('stroke-width','3');
  g.appendChild(frame);

  root.appendChild(g);
});

const cb=document.getElementById('colorbar');
const CB_LEFT=230,CB_WIDTH=603,CB_TOP=1005,CB_HEIGHT=23;
colorLevels.forEach(function(level,i){
  const el=document.createElementNS(NS,'rect');
  
  
  el.setAttribute('x',CB_LEFT+i*CB_WIDTH/colorLevels.length);
  el.setAttribute('y',CB_TOP);
  el.setAttribute('width',CB_WIDTH/colorLevels.length);
  el.setAttribute('height',CB_HEIGHT);
  el.setAttribute('fill',levelColors[level]);
  el.setAttribute('stroke','#000');
  el.setAttribute('stroke-width','1.4');
  cb.appendChild(el);
});
</script>
</body>
</html>
